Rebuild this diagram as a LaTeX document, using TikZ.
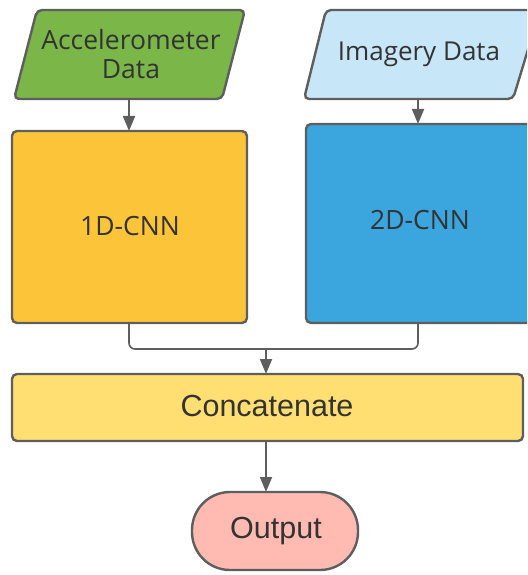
\documentclass[tikz,border=0pt]{standalone}
\usepackage{fontspec}
\setmainfont{Open Sans}
\newfontfamily\arialfont{Liberation Sans}
\usetikzlibrary{arrows.meta}
\definecolor{edgegray}{HTML}{5E5E5E}
\definecolor{txtgray}{HTML}{333333}
\definecolor{accgreen}{HTML}{7AB648}
\definecolor{imgblue}{HTML}{C7E6F7}
\definecolor{cnnorange}{HTML}{FCC438}
\definecolor{cnnblue}{HTML}{3AA6DD}
\definecolor{catyellow}{HTML}{FFDF71}
\definecolor{outpink}{HTML}{FFBBB1}
\tikzset{
  x=1pt, y=-1pt,
  shapeline/.style={draw=edgegray, line width=2.4pt, rounded corners=5pt},
  label/.style={text=txtgray, align=center, inner sep=0pt},
  flow/.style={draw=edgegray, line width=1.8pt, -{Triangle[length=15pt,width=12pt]}},
  joinline/.style={draw=edgegray, line width=1.6pt, rounded corners=6pt},
}
\begin{document}
\begin{tikzpicture}
\useasboundingbox (0,0) rectangle (527,575);
\clip (0,0) rectangle (527,575);
% input data (parallelograms)
\draw[shapeline, fill=accgreen] (37,10) -- (245,10) -- (222,99) -- (14,99) -- cycle;
\node[label, font=\fontsize{26.5}{29}\selectfont] (acc) at (131,54) {Accelerometer\\Data};
\draw[shapeline, fill=imgblue] (326,10) -- (540,10) -- (513,99) -- (304,99) -- cycle;
\node[label, font=\fontsize{26}{29}\selectfont] (img) at (419,54) {Imagery Data};
% convolutional branches
\draw[shapeline, fill=cnnorange] (12,131) rectangle (247,323);
\node[label, font=\fontsize{26.5}{29}\selectfont] (c1) at (130,226) {1D-CNN};
\draw[shapeline, fill=cnnblue] (306,124) rectangle (545,323);
\node[label, font=\fontsize{26.5}{29}\selectfont] (c2) at (420,220) {2D-CNN};
% merge and output
\draw[shapeline, fill=catyellow] (12,374) rectangle (523,441);
\node[label, font=\arialfont\fontsize{30.5}{34}\selectfont] (cat) at (267,406) {Concatenate};
\draw[draw=edgegray, line width=2.4pt, fill=outpink, rounded corners=38pt] (192,492) rectangle (358,570);
\node[label, font=\arialfont\fontsize{30.5}{34}\selectfont] (out) at (276,531) {Output};
% anchors on the shape borders
\coordinate (accB) at (129,99);
\coordinate (c1T) at (129,131);
\coordinate (imgB) at (418,99);
\coordinate (c2T) at (418,124);
\coordinate (c1B) at (129,323);
\coordinate (c2B) at (418,323);
\coordinate (catT) at (266,374);
\coordinate (catB) at (266,441);
\coordinate (outT) at (266,492);
\coordinate (mid) at (266,349);
% connectors
\draw[flow] (accB) -- (c1T);
\draw[flow] (imgB) -- (c2T);
\draw[joinline] (c1B) |- (mid);
\draw[joinline] (c2B) |- (mid);
\draw[flow] (mid) -- (catT);
\draw[flow] (catB) -- (outT);
\end{tikzpicture}
\end{document}
